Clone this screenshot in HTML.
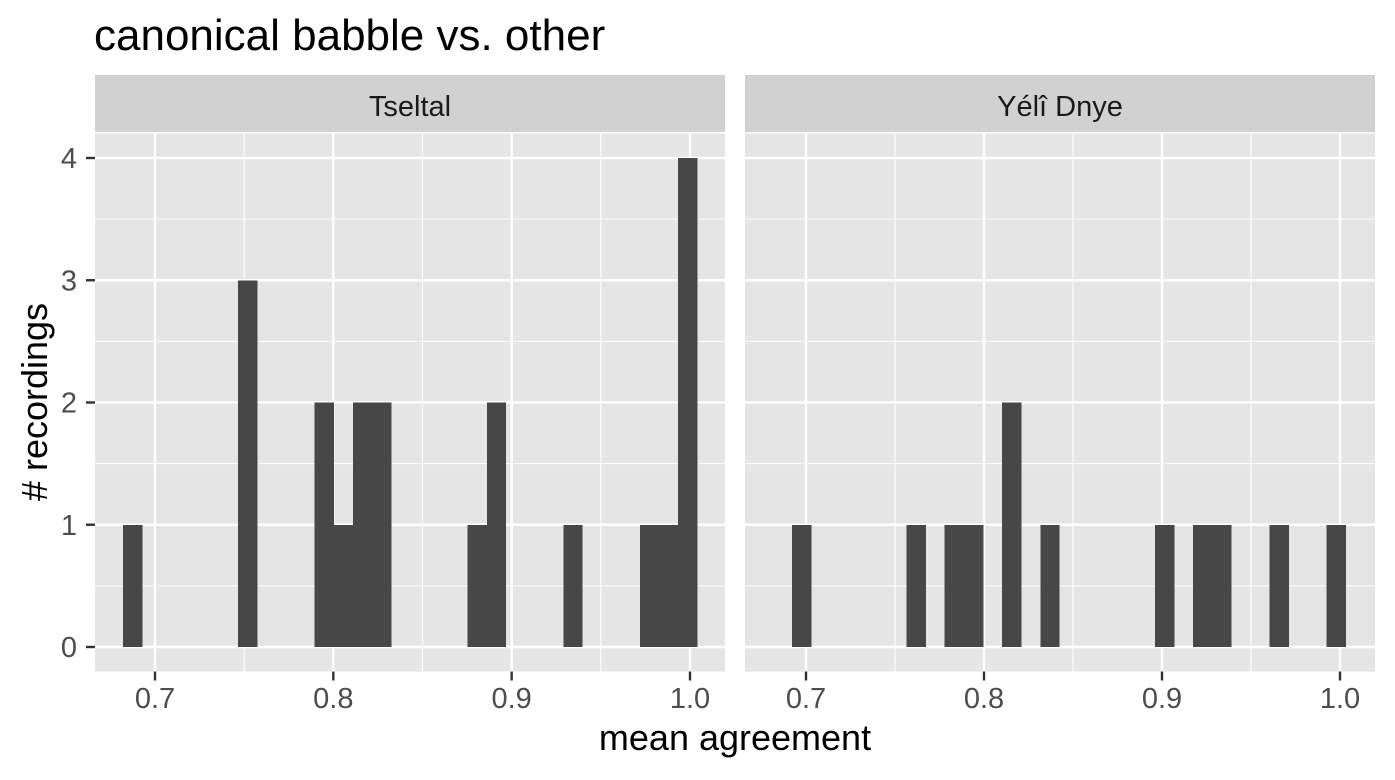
<!DOCTYPE html>
<html><head><meta charset="utf-8"><style>
html,body{margin:0;padding:0;background:#fff;}
svg text{font-family:"Liberation Sans",Arial,sans-serif;}
</style></head><body>
<svg id="chart" width="1395" height="775" xmlns="http://www.w3.org/2000/svg">
<text x="94" y="50" font-size="44" fill="#000">canonical babble vs. other</text>
<text x="735" y="750" font-size="36" text-anchor="middle" fill="#000">mean agreement</text>
<text transform="translate(47,402) rotate(-90)" font-size="36" text-anchor="middle" fill="#000"># recordings</text>
<g id="panels"></g>
</svg>
<script>
// Tseltal bins (bin centers) and counts
const tseltalBins = [0.6875,0.7519,0.7948,0.8055,0.8163,0.8270,0.8806,0.8914,0.9343,0.9772,0.9880,0.9987];
const tseltalCounts = [1,3,2,1,2,2,1,2,1,1,1,4];
// Yeli Dnye bins (bin centers) and counts
const yeliBins = [0.6975,0.7619,0.7833,0.7941,0.8155,0.8370,0.9014,0.9228,0.9336,0.9658,0.9979];
const yeliCounts = [1,1,1,1,2,1,1,1,1,1,1];
const panelNames = ["Tseltal","Yélî Dnye"];
const xTicks = [0.7,0.8,0.9,1.0];
const xTickLabels = ["0.7","0.8","0.9","1.0"];
const yTicks = [0,1,2,3,4];
const yTickLabels = ["0","1","2","3","4"];
const binWidths = [0.010731, 0.010730];

(function(){
const NS="http://www.w3.org/2000/svg";
const g=document.getElementById('panels');
function mk(t,a,p){const e=document.createElementNS(NS,t);for(const k in a)e.setAttribute(k,a[k]);(p||g).appendChild(e);return e;}
const yTop=133.5,yBot=671.5;
const y=v=>647-v*122.25;
const panels=[
 {x0:95,x1:725,d0:0.7-(155-95)/1783.3,d1:1.0+(725-690)/1783.3,bins:tseltalBins,counts:tseltalCounts},
 {x0:745,x1:1375,d0:0.7-(806-745)/1780,d1:1.0+(1375-1340)/1780,bins:yeliBins,counts:yeliCounts}
];
panels.forEach((p,i)=>{
 const x=v=>p.x0+(v-p.d0)/(p.d1-p.d0)*(p.x1-p.x0);
 const pg=mk('g',{});
 
 
 const strip=mk('rect',{x:p.x0,y:75,width:p.x1-p.x0,height:57,fill:'#d1d1d1'},pg);
 
 
 const st=mk('text',{x:(p.x0+p.x1)/2,y:116,'font-size':29,'text-anchor':'middle',fill:'#1a1a1a'},pg);
 st.textContent=panelNames[i];
 
 
 const bg=mk('rect',{x:p.x0,y:yTop,width:p.x1-p.x0,height:yBot-yTop,fill:'#e5e5e5'},pg);
 
 
 for(let k=0;k<xTicks.length-1;k++){const v=(xTicks[k]+xTicks[k+1])/2;mk('line',{x1:x(v),x2:x(v),y1:yTop,y2:yBot,stroke:'#fff','stroke-width':1.1},pg);}
 for(let k=0;k<yTicks.length-1;k++){const v=(yTicks[k]+yTicks[k+1])/2;mk('line',{x1:p.x0,x2:p.x1,y1:y(v),y2:y(v),stroke:'#fff','stroke-width':1.1},pg);}
 xTicks.forEach((v,k)=>{
  mk('line',{x1:x(v),x2:x(v),y1:yTop,y2:yBot,stroke:'#fff','stroke-width':2.4},pg);
  mk('line',{x1:x(v),x2:x(v),y1:yBot,y2:yBot+9,stroke:'#333','stroke-width':2.4},pg);
  const t=mk('text',{x:x(v),y:708,'font-size':29,'text-anchor':'middle',fill:'#4d4d4d'},pg);
  t.textContent=xTickLabels[k];
  
  
 });
 yTicks.forEach((v,k)=>{
  mk('line',{x1:p.x0,x2:p.x1,y1:y(v),y2:y(v),stroke:'#fff','stroke-width':2.4},pg);
  if(i===0){
   mk('line',{x1:p.x0-9,x2:p.x0,y1:y(v),y2:y(v),stroke:'#333','stroke-width':2.4},pg);
   const t=mk('text',{x:77,y:y(v)+10,'font-size':29,'text-anchor':'end',fill:'#4d4d4d'},pg);
   t.textContent=yTickLabels[k];
   
   
  }
 });
 const w=binWidths[i];
 p.bins.forEach((b,k)=>{
  const c=p.counts[k];
  const r=mk('rect',{x:x(b-w/2),y:y(c),width:x(b+w/2)-x(b-w/2)+0.3,height:y(0)-y(c),fill:'#474747','shape-rendering':'crispEdges'},pg);
  
  
 });
});
})();
</script>
</body></html>
